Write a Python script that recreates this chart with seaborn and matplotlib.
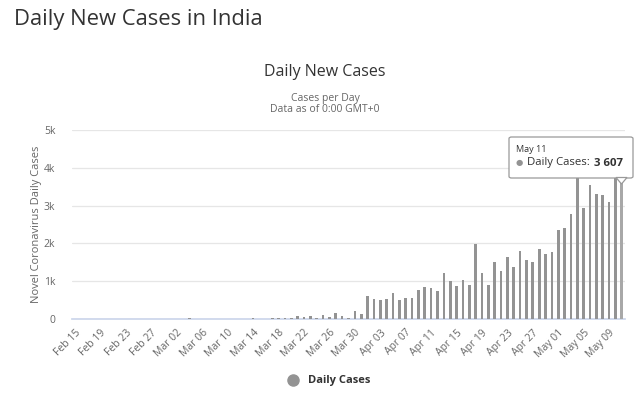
import pandas as pd
import seaborn as sns
import matplotlib.pyplot as plt
from matplotlib.lines import Line2D
from matplotlib.patches import FancyBboxPatch, Polygon

# dias desde Feb 15 hasta May 11 (2020)
fechas = pd.date_range('2020-02-15', '2020-05-11', freq='D')
etiquetas = [f.strftime('%b %d') for f in fechas]

casos_feb = [0] * 15                       # Feb 15 - Feb 29
casos_mar = [0, 2, 1, 22, 2, 1, 3, 5, 4, 13, 6, 11, 9, 20, 11, 6, 23, 14, 38,
             35, 70, 45, 70, 35, 100, 45, 150, 70, 30, 220, 130]
casos_abr = [600, 520, 500, 520, 690, 490, 550, 550, 780, 850, 820, 740,
             1220, 1010, 870, 1030, 900, 1980, 1210, 900, 1520, 1270, 1640,
             1380, 1800, 1560, 1520, 1840, 1710, 1770]
casos_may = [2350, 2400, 2780, 3900, 2930, 3540, 3310, 3280, 3090, 4350, 3607]
casos = casos_feb + casos_mar + casos_abr + casos_may

df = pd.DataFrame({'Fecha': etiquetas, 'Casos': casos})

sns.set_theme(style='white')
plt.rcParams['font.family'] = ['Open Sans', 'DejaVu Sans']

fig = plt.figure(figsize=(6.4, 4.04), dpi=100)
ax = fig.add_axes([72 / 640, 85 / 404, 553 / 640, 189 / 404])

sns.barplot(data=df, x='Fecha', y='Casos', color='#939393', width=0.42,
            saturation=1, linewidth=0, edgecolor='none', ax=ax, zorder=3)
ax.patches[-1].set_facecolor('#a8a8a8')

ax.set_xlim(-0.5, len(casos) - 0.5)
ax.set_ylim(0, 5000)
ax.set_yticks([0, 1000, 2000, 3000, 4000, 5000])
ax.set_yticklabels(['0', '1k', '2k', '3k', '4k', '5k'], color='#666666', fontsize=7.5)
ax.set_xticks(range(0, len(casos), 4))
ax.set_xticklabels(etiquetas[::4], rotation=45, ha='right', rotation_mode='anchor',
                   color='#666666', fontsize=7.5)
ax.tick_params(axis='both', length=0, pad=6)
ax.tick_params(axis='y', pad=12)

ax.grid(axis='y', color='#e6e6e6', linewidth=0.9, zorder=0)
for lado in ['top', 'right', 'left']:
    ax.spines[lado].set_visible(False)
ax.spines['bottom'].set_color('#ccd6eb')
ax.set_xlabel('')
ax.set_ylabel('Novel Coronavirus Daily Cases', color='#666666', fontsize=8, labelpad=1)

fig.text(14 / 640, 1 - 19 / 404, 'Daily New Cases in India', fontsize=15.8,
         color='#333333', va='center')
fig.text(325 / 640, 1 - 72 / 404, 'Daily New Cases', fontsize=11.5,
         color='#333333', ha='center', va='center')
fig.text(325 / 640, 1 - 98 / 404, 'Cases per Day', fontsize=7.5,
         color='#666666', ha='center', va='center')
fig.text(325 / 640, 1 - 110 / 404, 'Data as of 0:00 GMT+0', fontsize=7.5,
         color='#666666', ha='center', va='center')

# leyenda
mano = Line2D([], [], marker='o', linestyle='', markersize=8,
              markerfacecolor='#939393', markeredgecolor='#939393')
fig.legend([mano], ['Daily Cases'], loc='center', bbox_to_anchor=(326 / 640, 1 - 381 / 404),
           frameon=False, handletextpad=0.3, prop={'weight': 'bold', 'size': 8},
           labelcolor='#333333')

# tooltip
caja = FancyBboxPatch((509 / 640, 1 - 178 / 404), 124 / 640, 41 / 404,
                      boxstyle='round,pad=0,rounding_size=0.004',
                      transform=fig.transFigure, facecolor='white',
                      edgecolor='#999999', linewidth=0.9, zorder=10)
fig.patches.append(caja)
punta = Polygon([(616 / 640, 1 - 177.5 / 404), (621.5 / 640, 1 - 184 / 404),
                 (627 / 640, 1 - 177.5 / 404)], closed=True,
                transform=fig.transFigure, facecolor='white',
                edgecolor='#999999', linewidth=0.9, zorder=10)
fig.patches.append(punta)
fig.text(516 / 640, 1 - 150 / 404, 'May 11', fontsize=6.5, color='#333333',
         va='center', zorder=11)
fig.text(516 / 640, 1 - 163 / 404, '\u25CF', fontsize=6, color='#939393',
         va='center', zorder=11)
fig.text(527 / 640, 1 - 163 / 404, 'Daily Cases:', fontsize=8.2, color='#333333',
         va='center', zorder=11)
fig.text(594 / 640, 1 - 163 / 404, '3 607', fontsize=8.2, color='#333333',
         weight='bold', va='center', ha='left', zorder=11)

plt.savefig('out.png', dpi=100)
